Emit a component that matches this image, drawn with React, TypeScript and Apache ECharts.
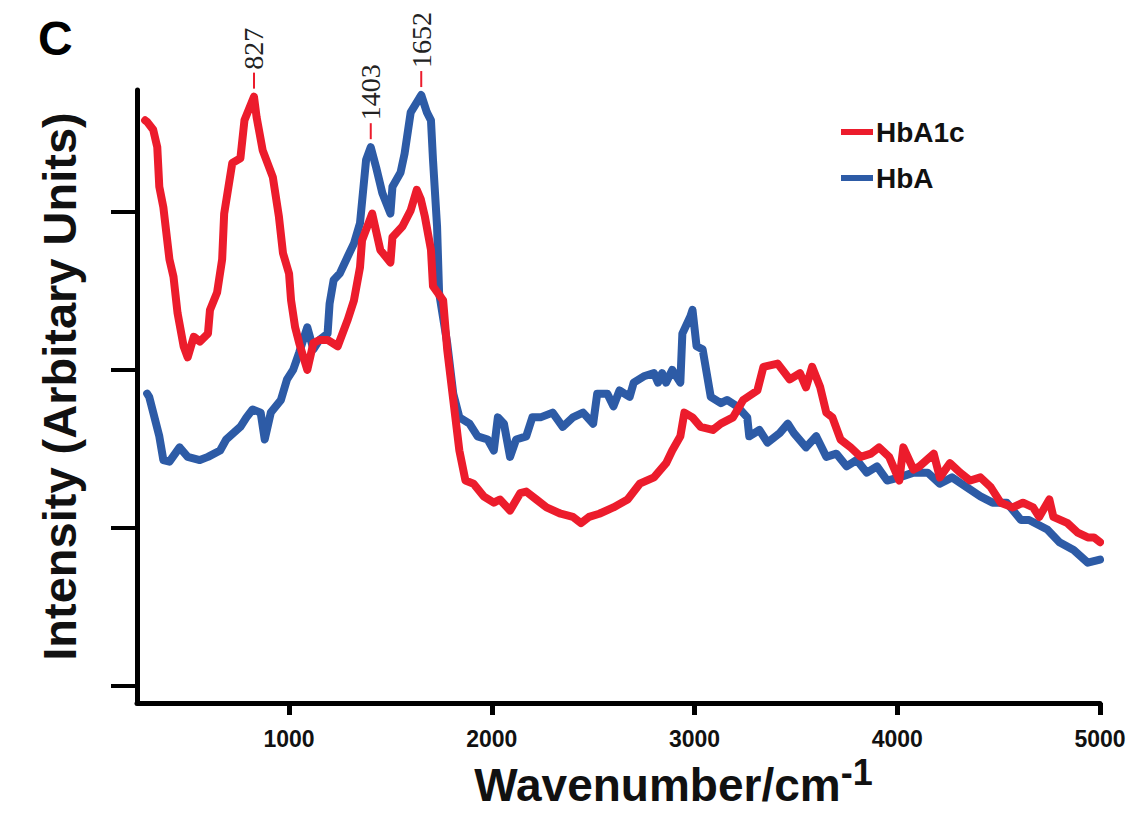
import React, { useEffect, useRef } from "react";
import * as echarts from "echarts";

// HbA1c (red) spectrum: wavenumber / intensity (arbitrary units)
const hba1cWn = [290, 300, 330, 350, 360, 380, 410, 430, 450, 480, 500, 530, 560, 600, 610, 645, 670, 680, 720, 760, 780, 827, 840, 870, 920, 950, 970, 1000, 1010, 1030, 1050, 1090, 1120, 1150, 1190, 1240, 1290, 1320, 1350, 1360, 1410, 1450, 1500, 1510, 1560, 1600, 1630, 1650, 1670, 1700, 1710, 1760, 1780, 1810, 1840, 1870, 1910, 1960, 2010, 2040, 2090, 2140, 2170, 2220, 2270, 2340, 2400, 2440, 2480, 2530, 2600, 2670, 2730, 2800, 2860, 2890, 2930, 2950, 2990, 3030, 3090, 3130, 3190, 3240, 3310, 3340, 3410, 3470, 3520, 3550, 3580, 3620, 3650, 3680, 3720, 3770, 3820, 3870, 3910, 3960, 4010, 4030, 4080, 4110, 4180, 4210, 4260, 4310, 4360, 4410, 4460, 4510, 4570, 4620, 4670, 4700, 4750, 4770, 4840, 4890, 4940, 4970, 5000];
const hba1cVal = [3.58, 3.57, 3.52, 3.41, 3.16, 3.03, 2.70, 2.59, 2.36, 2.15, 2.08, 2.21, 2.18, 2.23, 2.38, 2.49, 2.70, 2.99, 3.31, 3.34, 3.58, 3.73, 3.60, 3.39, 3.22, 2.97, 2.74, 2.61, 2.44, 2.27, 2.17, 2.00, 2.17, 2.19, 2.19, 2.15, 2.32, 2.44, 2.65, 2.82, 2.99, 2.76, 2.68, 2.84, 2.91, 3.01, 3.14, 3.08, 2.97, 2.76, 2.53, 2.44, 2.13, 1.81, 1.49, 1.30, 1.28, 1.20, 1.16, 1.18, 1.11, 1.22, 1.23, 1.18, 1.13, 1.09, 1.07, 1.03, 1.07, 1.09, 1.13, 1.18, 1.28, 1.32, 1.41, 1.49, 1.58, 1.73, 1.70, 1.64, 1.62, 1.66, 1.70, 1.81, 1.87, 2.02, 2.04, 1.94, 1.98, 1.89, 2.02, 1.89, 1.73, 1.70, 1.56, 1.51, 1.45, 1.47, 1.51, 1.45, 1.30, 1.51, 1.37, 1.39, 1.47, 1.32, 1.41, 1.35, 1.30, 1.32, 1.26, 1.16, 1.13, 1.16, 1.13, 1.07, 1.18, 1.07, 1.03, 0.97, 0.94, 0.94, 0.91];

// HbA (blue) spectrum
const hbaWn = [300, 310, 330, 360, 380, 410, 460, 500, 560, 600, 660, 690, 760, 790, 820, 860, 880, 910, 960, 990, 1020, 1050, 1090, 1120, 1150, 1190, 1200, 1220, 1250, 1290, 1320, 1350, 1380, 1403, 1430, 1460, 1500, 1510, 1550, 1570, 1600, 1652, 1680, 1700, 1710, 1730, 1740, 1780, 1810, 1840, 1890, 1930, 1980, 2010, 2030, 2060, 2090, 2120, 2170, 2200, 2240, 2300, 2350, 2400, 2450, 2500, 2520, 2570, 2600, 2630, 2680, 2700, 2750, 2800, 2820, 2840, 2860, 2890, 2930, 2940, 2980, 2990, 3010, 3040, 3080, 3130, 3160, 3210, 3260, 3270, 3320, 3360, 3420, 3460, 3490, 3550, 3600, 3650, 3700, 3750, 3800, 3850, 3900, 3950, 4010, 4080, 4150, 4210, 4270, 4340, 4410, 4470, 4540, 4610, 4650, 4740, 4800, 4870, 4940, 5000];
const hbaVal = [1.85, 1.83, 1.73, 1.58, 1.43, 1.42, 1.51, 1.45, 1.43, 1.45, 1.49, 1.56, 1.64, 1.70, 1.75, 1.73, 1.56, 1.73, 1.81, 1.94, 2.00, 2.11, 2.27, 2.13, 2.19, 2.23, 2.42, 2.57, 2.61, 2.72, 2.80, 2.93, 3.33, 3.41, 3.28, 3.12, 2.99, 3.16, 3.25, 3.37, 3.63, 3.74, 3.63, 3.58, 3.33, 2.91, 2.49, 2.17, 1.85, 1.70, 1.66, 1.58, 1.56, 1.49, 1.70, 1.66, 1.45, 1.56, 1.58, 1.70, 1.70, 1.73, 1.64, 1.70, 1.73, 1.66, 1.85, 1.85, 1.77, 1.87, 1.83, 1.92, 1.96, 1.98, 1.92, 1.98, 1.92, 2.00, 1.92, 2.23, 2.34, 2.38, 2.15, 2.13, 1.83, 1.79, 1.81, 1.77, 1.70, 1.58, 1.62, 1.54, 1.60, 1.66, 1.60, 1.51, 1.58, 1.45, 1.47, 1.39, 1.43, 1.35, 1.39, 1.30, 1.32, 1.35, 1.35, 1.28, 1.32, 1.26, 1.20, 1.16, 1.16, 1.05, 1.05, 0.99, 0.91, 0.86, 0.78, 0.80];

// X-axis ticks and y-axis ticks
const xTicks = [1000, 2000, 3000, 4000, 5000];
const yTicks = [0, 1, 2, 3];

// Peak annotations
const peakLabels = ["827", "1403", "1652"];
const peakWn = [827, 1403, 1652];
const peakVal = [3.73, 3.41, 3.74];

const RED = "#EC1C2C";
const BLUE = "#2D5BA6";
const SANS = "Liberation Sans, Arial, sans-serif";

export default function App() {
  const ref = useRef<HTMLDivElement>(null);

  useEffect(() => {
    if (!ref.current) return;
    const chart = echarts.init(ref.current, undefined, { renderer: "svg" });
    const redData = hba1cWn.map((w, i) => [w, hba1cVal[i]]);
    const blueData = hbaWn.map((w, i) => [w, hbaVal[i]]);

    chart.setOption({
      animation: false,
      backgroundColor: "#ffffff",
      grid: { left: 137, right: 41, top: 90, bottom: 110, containLabel: false },
      legend: {
        data: ["HbA1c", "HbA"],
        orient: "vertical",
        left: 836,
        top: 113,
        icon: "rect",
        itemWidth: 32,
        itemHeight: 6,
        itemGap: 18,
        textStyle: {
          fontFamily: SANS,
          fontWeight: "bold",
          fontSize: 28,
          color: "#111",
          padding: [0, 0, 0, -2],
        },
      },
      xAxis: {
        type: "value",
        min: 250,
        max: 5000,
        splitLine: { show: false },
        axisLine: { show: true, onZero: false, lineStyle: { color: "#000", width: 5 } },
        axisTick: {
          show: true,
          length: 12,
          customValues: xTicks,
          lineStyle: { color: "#000", width: 5 },
        },
        axisLabel: {
          customValues: xTicks,
          formatter: (v: number) => String(v),
          margin: 24,
          fontFamily: SANS,
          fontWeight: "bold",
          fontSize: 23,
          color: "#111",
        },
        name: "Wavenumber/cm{sup|-1}",
        nameLocation: "middle",
        nameGap: 46,
        nameTextStyle: {
          fontFamily: SANS,
          fontWeight: "bold",
          fontSize: 46,
          color: "#111",
          padding: [0, 0, 0, 110],
          rich: {
            sup: {
              fontFamily: SANS,
              fontWeight: "bold",
              fontSize: 36,
              color: "#111",
              verticalAlign: "bottom",
              padding: [0, 0, 24, 0],
            },
          },
        },
      },
      yAxis: {
        type: "value",
        min: -0.108,
        max: 3.772,
        splitLine: { show: false },
        axisLine: { show: true, onZero: false, lineStyle: { color: "#000", width: 5 } },
        axisTick: {
          show: true,
          length: 26,
          customValues: yTicks,
          lineStyle: { color: "#000", width: 4 },
        },
        axisLabel: { show: false },
        name: "Intensity (Arbitary Units)",
        nameLocation: "middle",
        nameGap: 54,
        nameTextStyle: {
          fontFamily: SANS,
          fontWeight: "bold",
          fontSize: 47,
          color: "#111",
          padding: [0, 0, 0, 20],
        },
      },
      series: [
        {
          name: "HbA",
          type: "line",
          data: blueData,
          showSymbol: false,
          symbol: "none",
          itemStyle: { color: BLUE },
          lineStyle: { color: BLUE, width: 8, join: "round", cap: "round" },
          z: 2,
        },
        {
          name: "HbA1c",
          type: "line",
          data: redData,
          showSymbol: false,
          symbol: "none",
          itemStyle: { color: RED },
          lineStyle: { color: RED, width: 8, join: "round", cap: "round" },
          z: 3,
        },
      ],
    });

    const graphics: any[] = [
      {
        type: "text",
        left: 38,
        top: 14,
        style: {
          text: "C",
          fontFamily: SANS,
          fontWeight: "bold",
          fontSize: 48,
          fill: "#000",
        },
      },
    ];
    peakWn.forEach((w, i) => {
      const p = chart.convertToPixel({ xAxisIndex: 0, yAxisIndex: 0 }, [w, peakVal[i]]) as number[];
      const px = p[0];
      const py = p[1];
      graphics.push({
        type: "line",
        shape: { x1: px, y1: py - 8, x2: px, y2: py - 24 },
        style: { stroke: RED, lineWidth: 2 },
      });
      graphics.push({
        type: "text",
        x: px,
        y: py - 27,
        rotation: Math.PI / 2,
        style: {
          text: peakLabels[i],
          fontFamily: "Liberation Serif, Times New Roman, serif",
          fontSize: 28,
          fill: "#222",
          align: "left",
          verticalAlign: "middle",
        },
      });
    });
    chart.setOption({ graphic: graphics });

    return () => chart.dispose();
  }, []);

  return (
    <div
      ref={ref}
      style={{ position: "absolute", left: 0, top: 0, width: 1141, height: 813, background: "#fff" }}
    />
  );
}
